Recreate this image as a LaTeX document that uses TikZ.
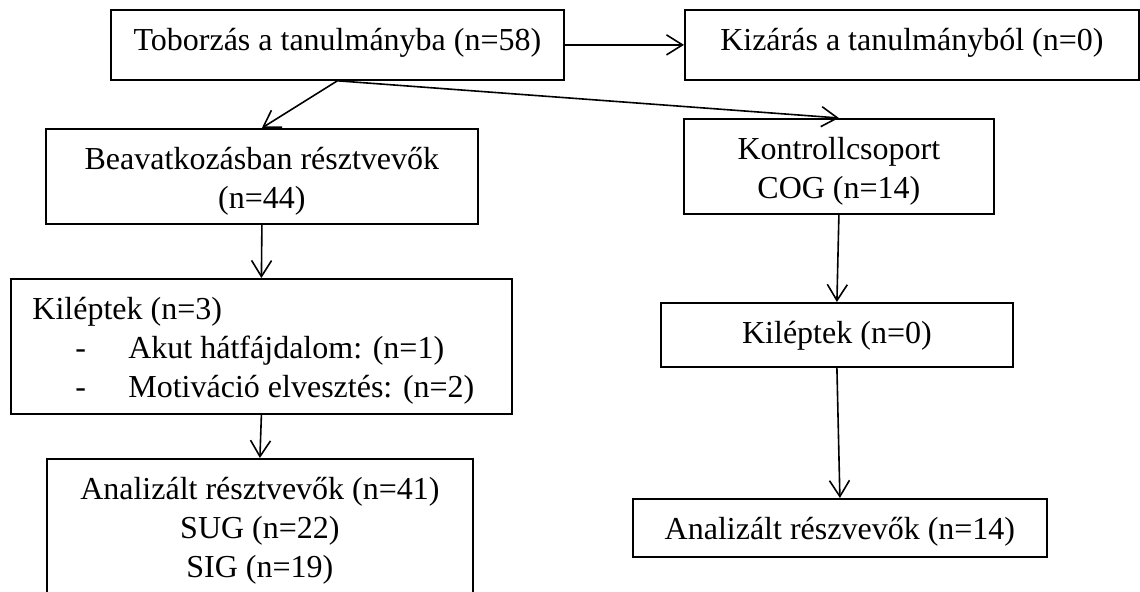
\documentclass[tikz,border=0pt]{standalone}
\usepackage{fontspec}
\setmainfont{Liberation Serif}
\usetikzlibrary{arrows.meta}

\begin{document}
\begin{tikzpicture}[x=0.5pt,y=-0.5pt,
    every node/.style={font=\fontsize{16}{19.5}\selectfont},
    frame/.style={draw,line width=0.9pt,inner sep=0pt,anchor=north west},
    txt/.style={inner sep=0pt,anchor=north,align=center,yshift=-9.5pt},
    arr/.style={line width=0.8pt,-{Straight Barb[length=8pt,width=10pt]}}]
      \useasboundingbox (0,0) rectangle (1140,592);
      \clip (0,0) rectangle (1140,592);

      % BOXES
      % recruitment
      \node[frame,minimum width=226.5pt,minimum height=35pt] (recruit) at (110,9) {};
      \node[txt] (recruitT) at (recruit.north) {Toborzás a tanulmányba (n=58)};

      % excluded
      \node[frame,minimum width=227pt,minimum height=35pt] (exclude) at (684,9) {};
      \node[txt] (excludeT) at (exclude.north) {Kizárás a tanulmányból (n=0)};

      % intervention group
      \node[frame,minimum width=216pt,minimum height=47.5pt] (interv) at (45,128) {};
      \node[txt] (intervT) at (interv.north) {Beavatkozásban résztvevők\\(n=44)};

      % control group
      \node[frame,minimum width=155pt,minimum height=47.5pt] (control) at (683,118) {};
      \node[txt] (controlT) at (control.north) {Kontrollcsoport\\COG (n=14)};

      % dropped out, left
      \node[frame,minimum width=250.5pt,minimum height=67.5pt] (dropA) at (10,278) {};
      \node[txt,anchor=north west,align=left,xshift=11pt] (dropAT) at (dropA.north west)
        {Kiléptek (n=3)\\
         \hspace*{21.5pt}\makebox[26.5pt][l]{-}Akut hátfájdalom: (n=1)\\
         \hspace*{21.5pt}\makebox[26.5pt][l]{-}Motiváció elvesztés: (n=2)};

      % dropped out, right
      \node[frame,minimum width=176pt,minimum height=32pt] (dropB) at (660,302) {};
      \node[txt] (dropBT) at (dropB.north) {Kiléptek (n=0)};

      % analysed, left
      \node[frame,minimum width=213pt,minimum height=91pt] (analysA) at (46,458) {};
      \node[txt] (analysAT) at (analysA.north) {Analizált résztvevők (n=41)\\SUG (n=22)\\SIG (n=19)};

      % analysed, right
      \node[frame,minimum width=207pt,minimum height=29pt] (analysB) at (632,498) {};
      \node[txt] (analysBT) at (analysB.north) {Analizált részvevők (n=14)};

      % ARROWS
      \draw[arr] (recruit.east) -- (exclude.west);
      \draw[arr] (recruit.south) -- (interv.north);
      \draw[arr] (recruit.south) -- (control.north);
      \draw[arr] (interv.south) -- (dropA.north);
      \draw[arr] (dropA.south) -- (analysA.north);
      \draw[arr] (control.south) -- (dropB.north);
      \draw[arr] (dropB.south) -- (analysB.north);
    \end{tikzpicture}
\end{document}
